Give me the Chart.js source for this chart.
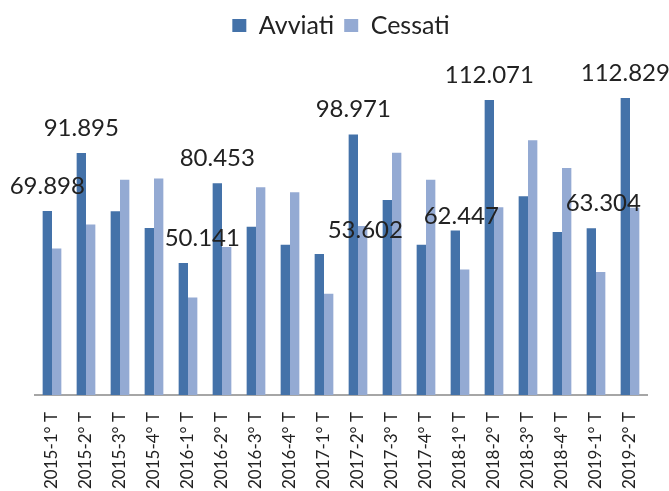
<!DOCTYPE html>
<html>
<head>
<meta charset="utf-8">
<script src="https://cdn.jsdelivr.net/npm/chart.js@4.4.0/dist/chart.umd.min.js"></script>
<style>
  body { margin: 0; background: #fff; }
  canvas { display: block; }
</style>
</head>
<body>
<canvas id="chart" width="669" height="491"></canvas>
<script>
const categories = ["2015-1° T","2015-2° T","2015-3° T","2015-4° T","2016-1° T","2016-2° T","2016-3° T","2016-4° T",
  "2017-1° T","2017-2° T","2017-3° T","2017-4° T","2018-1° T","2018-2° T","2018-3° T","2018-4° T","2019-1° T","2019-2° T"];
const avviati = [69898, 91895, 69800, 63400, 50141, 80453, 63900, 57100, 53602, 98971, 74100, 57100, 62447, 112071, 75500, 61900, 63304, 112829];
const cessati = [55600, 64800, 81800, 82200, 37000, 56200, 78900, 77000, 38500, 64200, 92000, 81800, 47700, 71300, 96800, 86200, 46700, 71100];
// quarters whose Avviati value is written on the chart
const labelled = [0, 1, 4, 5, 8, 9, 12, 13, 16, 17];

function fmt(n) {
  return String(n).replace(/\B(?=(\d{3})+(?!\d))/g, ".");
}

const valueLabels = {
  id: "valueLabels",
  afterDatasetsDraw(chart, args, opts) {
    const ctx = chart.ctx;
    const meta = chart.getDatasetMeta(0);
    ctx.save();
    ctx.font = "24px Lato";
    ctx.fillStyle = "#222";
    ctx.textAlign = "center";
    ctx.textBaseline = "middle";
    labelled.forEach(i => {
      const bar = meta.data[i];
      const n = opts.nudge[i] || [0, 0];
      ctx.fillText(fmt(avviati[i]), bar.x + n[0], bar.y - 25 + n[1]);
    });
    ctx.restore();
  }
};

new Chart(document.getElementById("chart"), {
  type: "bar",
  data: {
    labels: categories,
    datasets: [
      { label: "Avviati", data: avviati, backgroundColor: "#4472a9" },
      { label: "Cessati", data: cessati, backgroundColor: "#94aad3" }
    ]
  },
  options: {
    responsive: false,
    animation: false,
    layout: { padding: { left: 35, right: 22, top: 3, bottom: 0 } },
    datasets: { bar: { categoryPercentage: 0.55, barPercentage: 1 } },
    plugins: {
      legend: {
        position: "top",
        labels: {
          boxWidth: 14, boxHeight: 13, padding: 10,
          color: "#222",
          font: { family: "Lato", size: 25 }
        }
      },
      tooltip: { enabled: false },
      valueLabels: { nudge: { 4: [19, 0], 8: [46, 1], 12: [6, 11], 16: [12, 0] } }
    },
    scales: {
      x: {
        grid: { display: false, drawTicks: false },
        border: { color: "#a6a6a6", width: 2 },
        ticks: {
          color: "#222",
          font: { family: "Lato", size: 17 },
          minRotation: 90, maxRotation: 90,
          padding: 17
        },
        afterFit(scale) { scale.height = 96; }
      },
      y: {
        display: false,
        min: 0,
        max: 131800
      }
    }
  },
  plugins: [valueLabels]
});
</script>
</body>
</html>
